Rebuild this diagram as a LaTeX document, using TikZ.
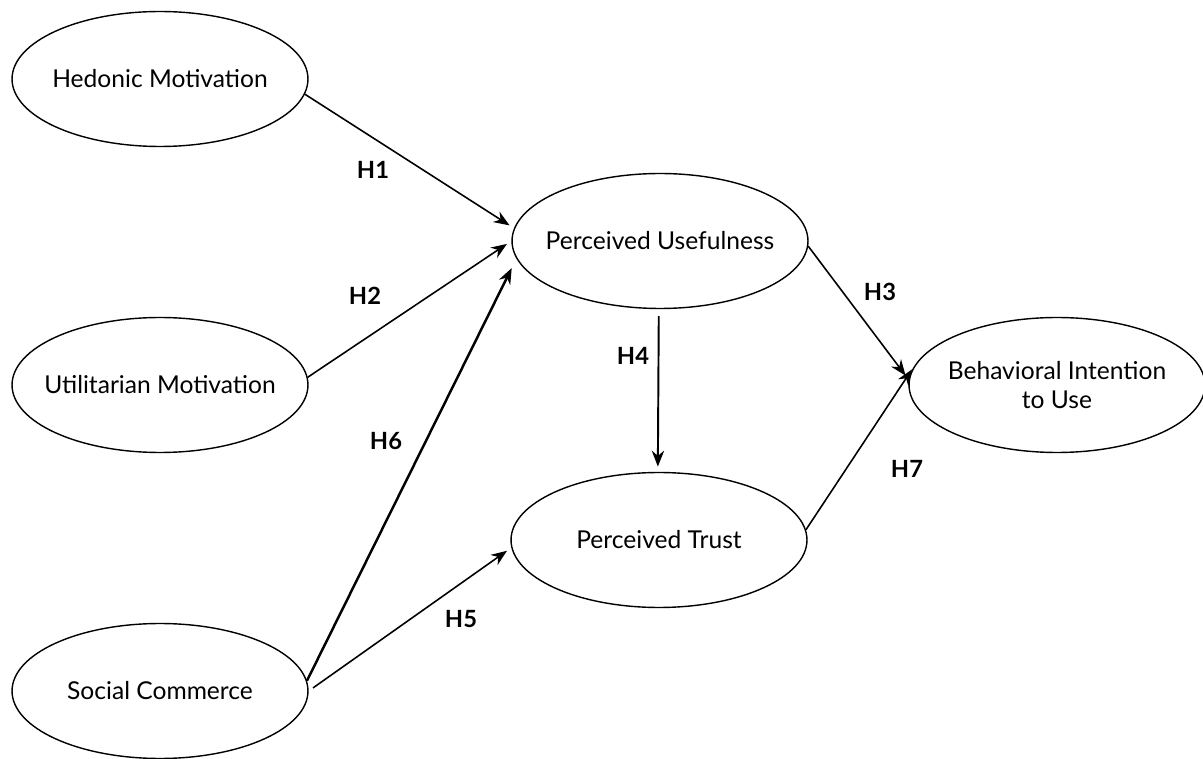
\documentclass[tikz,border=0pt]{standalone}
\usepackage{fontspec}
\setmainfont{Lato}
\usepackage{tikz}
\usetikzlibrary{shapes.geometric}
\usetikzlibrary{arrows.meta}

\begin{document}
\begin{tikzpicture}[x=0.02cm, y=-0.02cm,
	construct/.style={draw=black, line width=0.8pt, ellipse, inner sep=0pt, minimum width=5.92cm, minimum height=2.7cm},
	constructtext/.style={align=center, font=\fontsize{14}{17}\selectfont},
	link/.style={line width=0.9pt, -{Stealth[length=9pt, width=7pt]}, shorten >=3pt},
	hyp/.style={font=\fontsize{13.5}{16}\selectfont\bfseries}]
	    		\useasboundingbox (0, 0) rectangle (1203, 759);
	    		\node[construct, label={[constructtext]center:Hedonic Motivation}] (hm) at (160,  79) {};
	    		\node[construct, label={[constructtext]center:Utilitarian Motivation}] (um) at (160, 385) {};
	    		\node[construct, label={[constructtext]center:Social Commerce}] (sc) at (160, 691) {};
	    		\node[construct, label={[constructtext]center:Perceived Usefulness}] (pu) at (660, 241) {};
	    		\node[construct, label={[constructtext]center:Perceived Trust}] (pt) at (659, 540) {};
	    		\node[construct, label={[constructtext]center:Behavioral Intention\\to Use}] (bi) at (1057, 385) {};
	    		\draw[link] (hm.-6) -- (pu.175);
	    		\draw[link] (um.3) -- (pu.180);
	    		\draw[link, line width=1.4pt, shorten >=6pt] (sc.4) -- (pu.187);
	    		\draw[link, shorten <=3pt] (sc.0) -- (pt.183);
	    		\draw[link, line width=1.1pt, shorten <=4pt] (pu.-91) -- (pt.91);
	    		\draw[link] (pu.-2) -- (bi.178);
	    		\draw[link] (pt.4) -- (bi.172);
	    		\node[hyp] (h1) at (373, 170) {H1};
	    		\node[hyp] (h2) at (365, 296) {H2};
	    		\node[hyp] (h3) at (880, 292) {H3};
	    		\node[hyp] (h4) at (633, 356) {H4};
	    		\node[hyp] (h5) at (461, 619) {H5};
	    		\node[hyp] (h6) at (386, 441) {H6};
	    		\node[hyp] (h7) at (907, 469) {H7};
			\end{tikzpicture}
\end{document}
